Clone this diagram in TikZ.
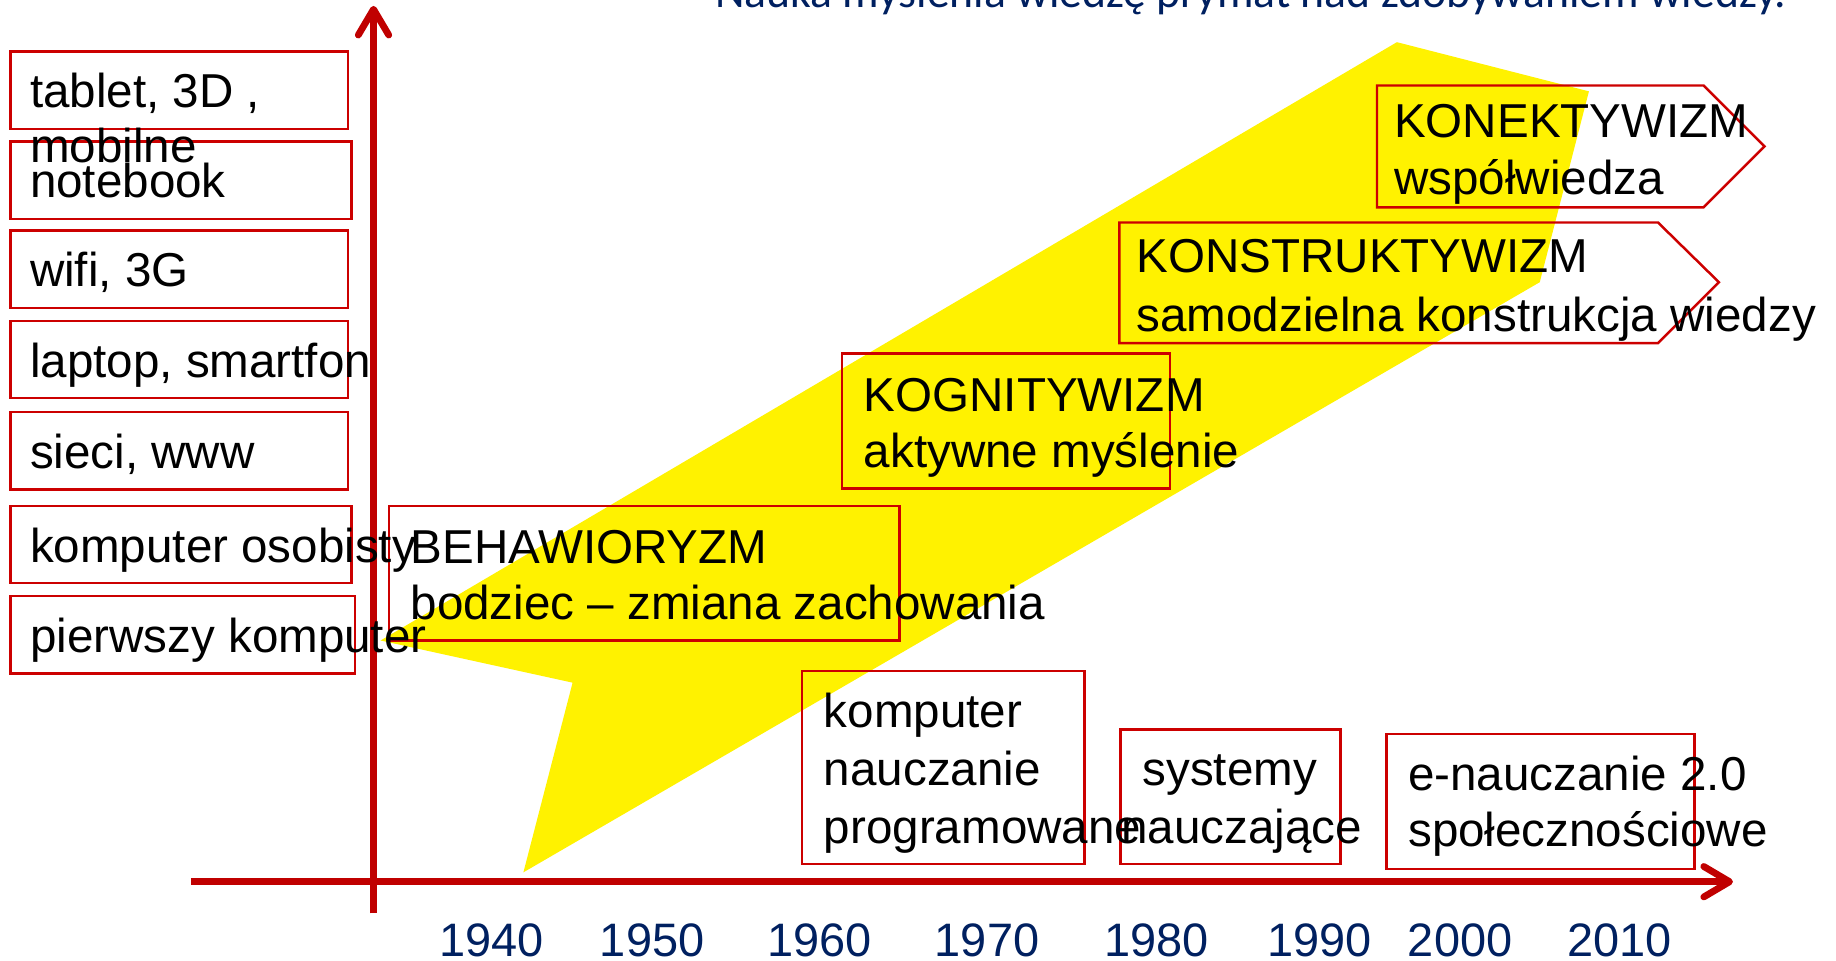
\documentclass[tikz,border=0pt]{standalone}
\usepackage{fontspec}
\setmainfont{Liberation Sans}
\newfontfamily\calibrifont{Carlito}
\usetikzlibrary{arrows.meta}
\definecolor{axisred}{RGB}{192,0,0}
\definecolor{boxred}{RGB}{204,0,0}
\definecolor{navy}{RGB}{0,32,96}
\begin{document}
\begin{tikzpicture}[x=0.01cm, y=-0.01cm,
    box/.style={draw=boxred, line width=0.6pt},
    txt/.style={anchor=base west, inner sep=0pt, font=\fontsize{11.55}{13.9}\selectfont},
    year/.style={anchor=base, inner sep=0pt, text=navy, font=\fontsize{11.4}{13.9}\selectfont},
    axis/.style={axisred, line width=1.65pt, -{Straight Barb[length=0.22cm, width=0.26cm, round]}}]
    % Frame
    \useasboundingbox (0,0) rectangle (1568,820);

    % Title, cut by the top edge
    \begin{scope}
        \clip (0,0) rectangle (1568,820);
        \node[anchor=base west, inner sep=0pt, text=navy, font=\calibrifont\fontsize{11.1}{13}\selectfont] (title) at (610,6) {Nauka myślenia wiedzę prymat nad zdobywaniem wiedzy.};
    \end{scope}

    % Yellow arrow
    \fill[yellow] (325,547) -- (1193,36) -- (1357,78) -- (1315,241) -- (447,745) -- (489,583) -- cycle;

    % Technology boxes
    \foreach \n/\ytop/\xright in {1/44/297, 2/121/300, 3/197/297, 4/274/297, 5/352/297, 6/432/300, 7/509/303} {
        \draw[box] (9,\ytop) rectangle (\xright,\ytop+66);
    }

    % Theory boxes
    \draw[box] (332,432) rectangle (768,547);
    \draw[box] (719,302) rectangle (999,417);
    \draw[box] (956,190) -- (1416,190) -- (1468,241) -- (1416,293) -- (956,293) -- cycle;
    \draw[box] (1176,73) -- (1455,73) -- (1507,125) -- (1455,177) -- (1176,177) -- cycle;

    % E-learning boxes
    \draw[box] (685,573) rectangle (926,738);
    \draw[box] (957,623) rectangle (1145,738);
    \draw[box] (1184,627) rectangle (1447,742);

    % Axes
    \coordinate (xStart) at (163,753);
    \coordinate (xEnd) at (1480,753);
    \coordinate (yStart) at (319,780);
    \coordinate (yEnd) at (319,5);
    \draw[axis] (xStart) -- (xEnd);
    \draw[axis] (yStart) -- (yEnd);

    % Technology labels
    \foreach \n/\ybase/\tech in {1/92/{tablet, 3D ,}, 2/169/notebook, 3/245/{wifi, 3G}, 4/322/{laptop, smartfon}, 5/400/{sieci, www}, 6/480/{komputer osobisty}, 7/557/{pierwszy komputer}} {
        \node[txt] (tech\n) at (25,\ybase) {\tech};
    }
    \node[txt] (tech1b) at (25,139) {mobilne};

    % Theory labels
    \node[txt] (behav) at (350,481) {BEHAWIORYZM};
    \node[txt] (behavSub) at (350,529) {bodziec – zmiana zachowania};
    \node[txt] (cogn) at (737,351) {KOGNITYWIZM};
    \node[txt] (cognSub) at (737,399) {aktywne myślenie};
    \node[txt] (constr) at (970,233) {KONSTRUKTYWIZM};
    \node[txt] (constrSub) at (970,283) {samodzielna konstrukcja wiedzy};
    \node[txt] (conn) at (1190,117) {KONEKTYWIZM};
    \node[txt] (connSub) at (1190,166) {współwiedza};

    % E-learning labels
    \node[txt] (cai1) at (703,621) {komputer};
    \node[txt] (cai2) at (703,671) {nauczanie};
    \node[txt] (cai3) at (703,720) {programowane};
    \node[txt] (its1) at (975,671) {systemy};
    \node[txt] (its2) at (957,720) {nauczające};
    \node[txt] (el1) at (1202,675) {e-nauczanie 2.0};
    \node[txt] (el2) at (1202,723) {społecznościowe};

    % Years
    \foreach \yr/\xc in {1940/420, 1950/557, 1960/700, 1970/843, 1980/988, 1990/1127, 2000/1247, 2010/1383} {
        \node[year] (y\yr) at (\xc,817) {\yr};
    }
\end{tikzpicture}
\end{document}
